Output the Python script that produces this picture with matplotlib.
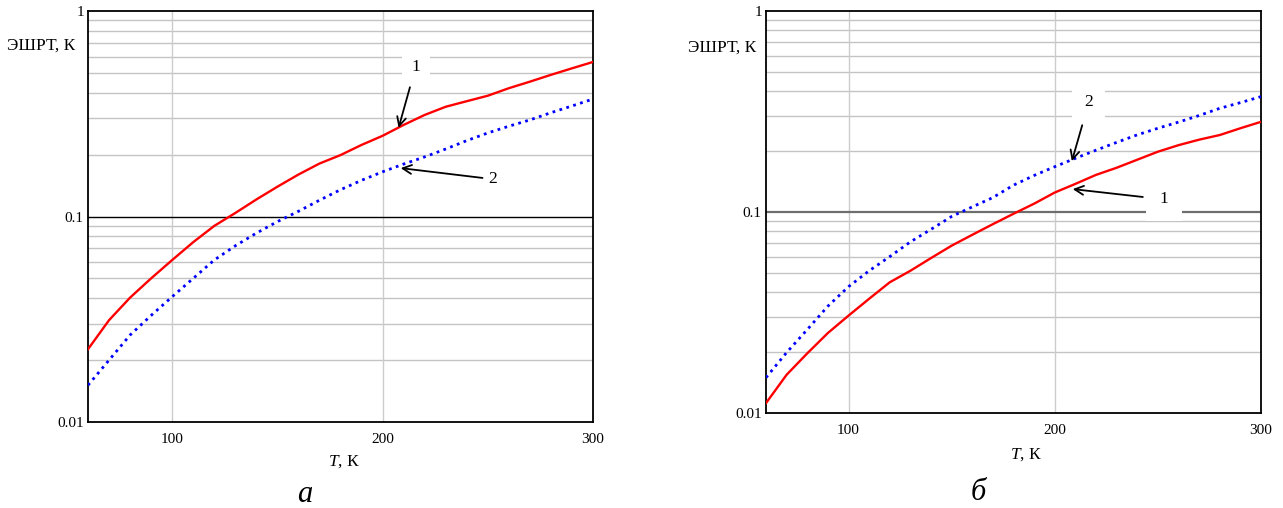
import matplotlib
matplotlib.use("Agg")
import matplotlib.pyplot as plt
from matplotlib.ticker import FixedLocator, NullFormatter

plt.rcParams['font.family'] = ['Liberation Serif', 'DejaVu Serif']
plt.rcParams['mathtext.fontset'] = 'custom'
plt.rcParams['mathtext.rm'] = 'Liberation Serif'
plt.rcParams['mathtext.it'] = 'Liberation Serif:italic'

T = [60, 70, 80, 90, 100, 110, 120, 130, 140, 150, 160, 170, 180, 190, 200,
     210, 220, 230, 240, 250, 260, 270, 280, 290, 300]

# Panel a
a_curve1 = [0.0226, 0.0313, 0.0403, 0.050, 0.0614, 0.075, 0.090, 0.104, 0.121, 0.1396,
            0.160, 0.181, 0.199, 0.223, 0.247, 0.279, 0.312, 0.342, 0.364, 0.387,
            0.421, 0.453, 0.489, 0.526, 0.565]
a_curve2 = [0.0151, 0.020, 0.0265, 0.033, 0.0407, 0.050, 0.0614, 0.072, 0.083, 0.0944,
            0.106, 0.120, 0.135, 0.150, 0.165, 0.180, 0.195, 0.213, 0.234, 0.255,
            0.275, 0.295, 0.320, 0.345, 0.373]
# Panel b
b_curve1 = [0.0112, 0.0155, 0.0198, 0.025, 0.0305, 0.037, 0.0447, 0.051, 0.059, 0.068,
            0.077, 0.087, 0.098, 0.110, 0.125, 0.138, 0.153, 0.166, 0.182, 0.1995,
            0.215, 0.229, 0.2415, 0.261, 0.281]
b_curve2 = [0.015, 0.020, 0.026, 0.034, 0.0425, 0.051, 0.060, 0.071, 0.082, 0.095,
            0.106, 0.118, 0.136, 0.152, 0.168, 0.185, 0.203, 0.222, 0.242, 0.261,
            0.280, 0.302, 0.328, 0.350, 0.375]

x_ticks = [100, 200, 300]
y_ticks = [0.01, 0.1, 1]
y_tick_labels = ["0.01", "0.1", "1"]
minor_y = [k * d for d in (0.01, 0.1) for k in range(2, 10)]

W, H = 1283, 508
fig = plt.figure(figsize=(W / 100, H / 100), dpi=100)

def setup(ax, major_color, major_lw):
    ax.set_yscale('log')
    ax.set_xlim(60, 300)
    ax.set_ylim(0.01, 1)
    ax.xaxis.set_major_locator(FixedLocator(x_ticks))
    ax.set_xticklabels([str(v) for v in x_ticks])
    ax.yaxis.set_major_locator(FixedLocator(y_ticks))
    ax.set_yticklabels(y_tick_labels)
    ax.yaxis.set_minor_locator(FixedLocator(minor_y))
    ax.yaxis.set_minor_formatter(NullFormatter())
    ax.tick_params(axis='both', which='both', length=0)
    ax.tick_params(axis='y', pad=3, labelsize=11)
    ax.tick_params(axis='x', pad=8, labelsize=11)
    for v in minor_y:
        ax.axhline(v, color='#c4c4c4', lw=1.0, zorder=0)
    ax.axhline(0.1, color=major_color, lw=major_lw, zorder=0.5)
    for v in [100, 200]:
        ax.axvline(v, color='#cccccc', lw=1.0, zorder=0)
    for s in ax.spines.values():
        s.set_color('black')
        s.set_linewidth(1.3)

def plot_curves(ax, c1, c2):
    ax.plot(T, c1, color='#ff0000', lw=1.7, zorder=3)
    ax.plot(T, c2, color='#0000ff', lw=2.0, linestyle=(0, (1.0, 1.6)), zorder=3)

arrow = dict(arrowstyle='->', color='black', lw=1.3, mutation_scale=16,
             shrinkA=2, shrinkB=0)
box = dict(boxstyle='square,pad=0.55', fc='white', ec='none')

# Left panel
axa = fig.add_axes([88 / W, (H - 422) / H, (593 - 88) / W, (422 - 11) / H])
setup(axa, 'black', 1.0)
plot_curves(axa, a_curve1, a_curve2)
axa.annotate('1', xy=(207.6, 0.270), xytext=(215.7, 0.534), ha='center', va='center',
             fontsize=12.5, bbox=box, arrowprops=arrow, zorder=4)
axa.annotate('2', xy=(208.6, 0.172), xytext=(252.2, 0.152), ha='center', va='center',
             fontsize=12.5, arrowprops=arrow, zorder=4)

# Right panel
axb = fig.add_axes([766 / W, (H - 413) / H, (1261 - 766) / W, (413 - 11) / H])
setup(axb, '#6e6e6e', 1.6)
plot_curves(axb, b_curve1, b_curve2)
axb.annotate('2', xy=(208.3, 0.179), xytext=(216.5, 0.351), ha='center', va='center',
             fontsize=12.5, bbox=dict(boxstyle='square,pad=0.7', fc='white', ec='none'),
             arrowprops=arrow, zorder=4)
axb.annotate('1', xy=(208.7, 0.130), xytext=(252.9, 0.1156), ha='center', va='center',
             fontsize=12.5, bbox=dict(boxstyle='square,pad=0.8', fc='white', ec='none'),
             arrowprops=arrow, zorder=4)

# Axis titles
fig.text(7 / W, 1 - 46 / H, 'ЭШРТ, К', fontsize=12.5, ha='left', va='center')
fig.text(688 / W, 1 - 48 / H, 'ЭШРТ, К', fontsize=12.5, ha='left', va='center')
fig.text(344 / W, 1 - 462 / H, r'$T$, К', fontsize=12.5, ha='center', va='center')
fig.text(1026 / W, 1 - 455 / H, r'$T$, К', fontsize=12.5, ha='center', va='center')

# Panel letters
fig.text(305 / W, 1 - 494 / H, 'а', fontsize=22, style='italic', ha='center', va='center')
fig.text(978 / W, 1 - 492 / H, 'б', fontsize=22, style='italic', ha='center', va='center')

fig.savefig('out.png', dpi=100, facecolor='white')
